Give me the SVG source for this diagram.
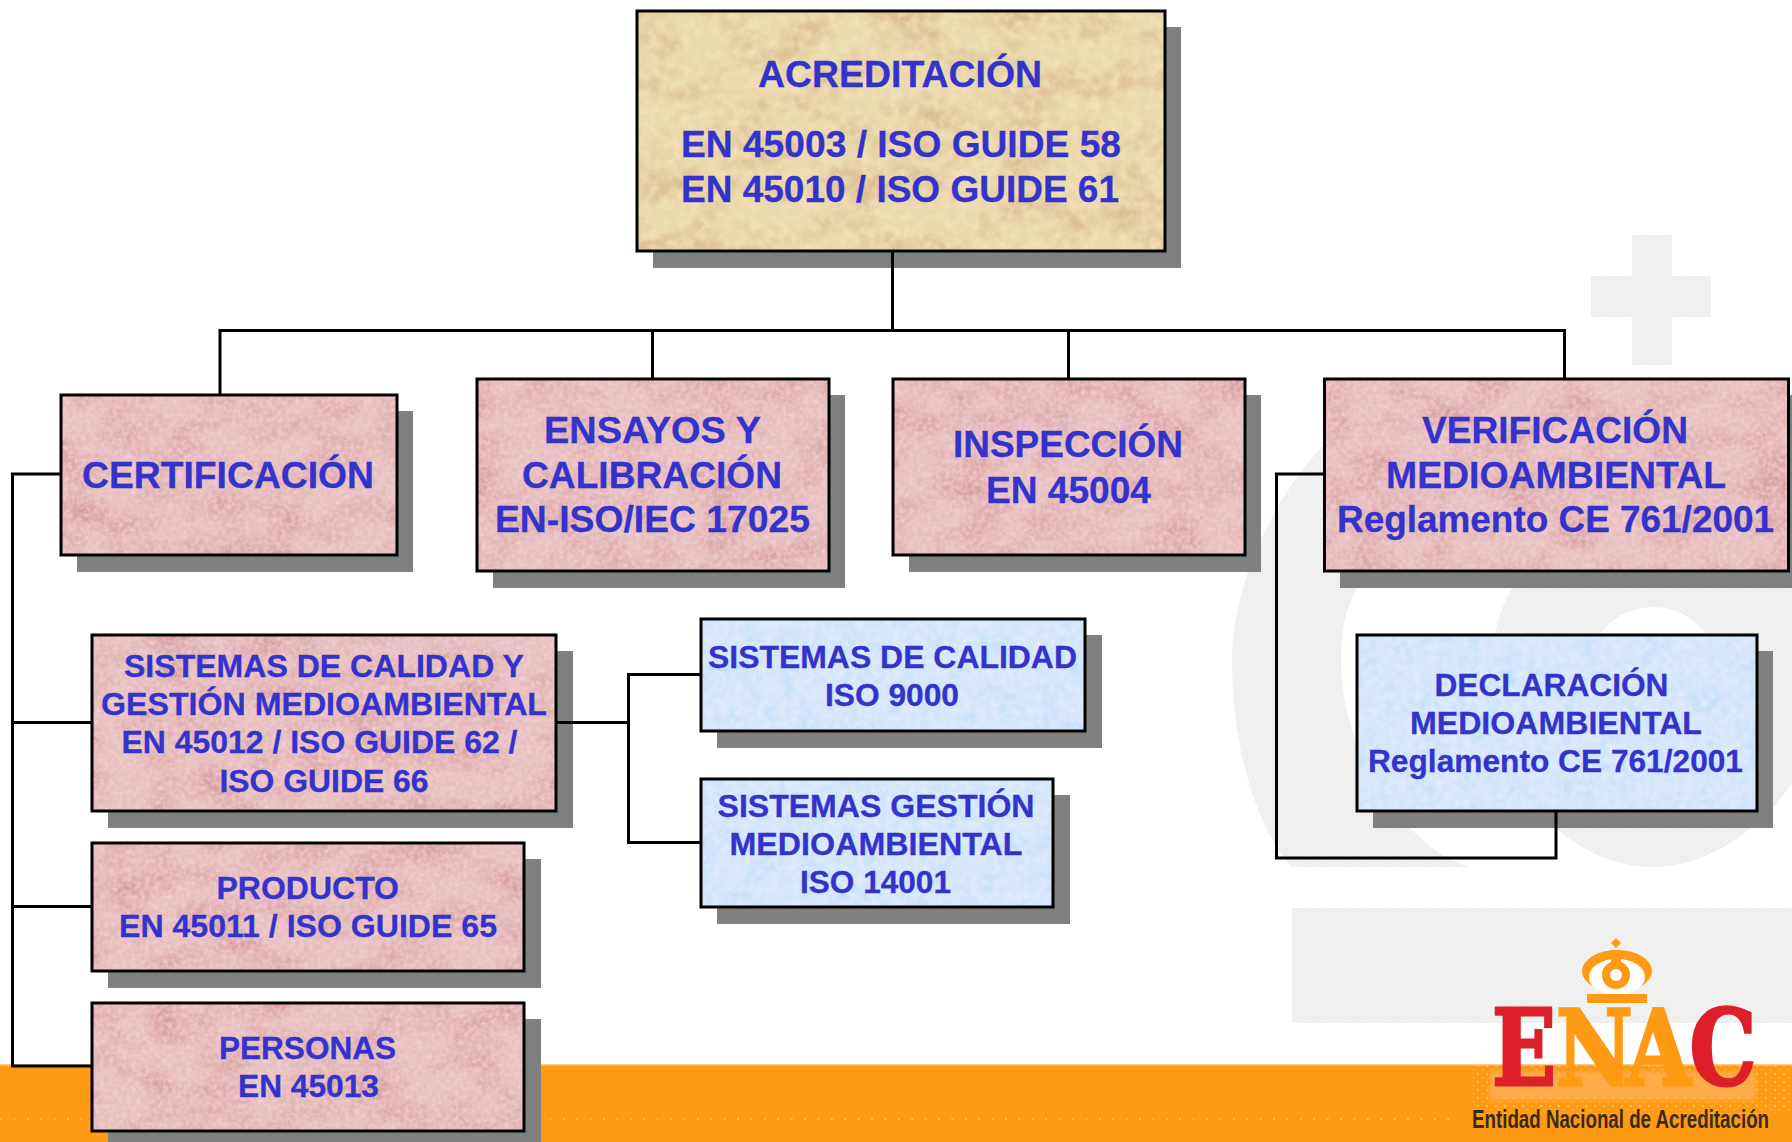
<svg xmlns="http://www.w3.org/2000/svg" width="1792" height="1142" viewBox="0 0 1792 1142">
<style>
text{font-family:"Liberation Sans",Arial,sans-serif;font-weight:bold;fill:#3333cc}
.l{font-size:37px;stroke:#3333cc;stroke-width:.3}
.s{font-size:31px;stroke:#3333cc;stroke-width:.3}
.sh{fill:#808080}
.fr{fill:none;stroke:#000;stroke-width:3}
.rose{fill:#e8bfc0;filter:url(#texRose)}
.tan{fill:#e9d7ae;filter:url(#texTan)}
.blue{fill:#d4e6fc;filter:url(#texBlue)}
.c{fill:none;stroke:#000;stroke-width:3}
.wm{fill:url(#half)}
.lg{font-family:"DejaVu Serif","Liberation Serif",serif;font-size:105px;stroke-width:3}
.o{fill:#ff9a14}
</style>
<defs>
<pattern id="half" width="5" height="4" patternUnits="userSpaceOnUse"><rect width="5" height="4" fill="#eeeeee"/><circle cx="1" cy="1" r=".8" fill="#f9f9f9"/><circle cx="3.5" cy="3" r=".8" fill="#f9f9f9"/></pattern>
<pattern id="halo" width="4" height="4" patternUnits="userSpaceOnUse"><rect width="4" height="4" fill="#ffa630"/><circle cx="1" cy="1" r="1" fill="#ffc890"/><circle cx="3" cy="3" r="1" fill="#ffbe78"/></pattern>
<pattern id="spark" width="9" height="8" patternUnits="userSpaceOnUse"><circle cx="2" cy="2" r="1" fill="#ffc860"/><circle cx="6.500" cy="6" r="1" fill="#ffb040"/></pattern>
<filter id="soft" x="-5%" y="-20%" width="110%" height="140%"><feGaussianBlur stdDeviation="2"/></filter>
<filter id="texRose" x="0" y="0" width="100%" height="100%" color-interpolation-filters="sRGB">
<feTurbulence type="fractalNoise" baseFrequency="0.02 0.03" numOctaves="4" seed="4" result="n"/>
<feColorMatrix in="n" type="matrix" values="0 0 0 0 .83 0 0 0 0 .60 0 0 0 0 .61 2 0 0 0 -.8" result="d"/>
<feTurbulence type="fractalNoise" baseFrequency="0.22" numOctaves="2" seed="9" result="m"/>
<feColorMatrix in="m" type="matrix" values="0 0 0 0 .95 0 0 0 0 .83 0 0 0 0 .83 0 1.5 0 0 -.5" result="w"/>
<feMerge><feMergeNode in="SourceGraphic"/><feMergeNode in="d"/><feMergeNode in="w"/></feMerge>
</filter>
<filter id="texTan" x="0" y="0" width="100%" height="100%" color-interpolation-filters="sRGB">
<feTurbulence type="fractalNoise" baseFrequency="0.018 0.03" numOctaves="4" seed="7" result="n"/>
<feColorMatrix in="n" type="matrix" values="0 0 0 0 .85 0 0 0 0 .72 0 0 0 0 .54 2 0 0 0 -.8" result="d"/>
<feTurbulence type="fractalNoise" baseFrequency="0.1" numOctaves="3" seed="2" result="m"/>
<feColorMatrix in="m" type="matrix" values="0 0 0 0 .96 0 0 0 0 .89 0 0 0 0 .73 0 1.6 0 0 -.55" result="w"/>
<feMerge><feMergeNode in="SourceGraphic"/><feMergeNode in="d"/><feMergeNode in="w"/></feMerge>
</filter>
<filter id="texBlue" x="0" y="0" width="100%" height="100%" color-interpolation-filters="sRGB">
<feTurbulence type="fractalNoise" baseFrequency="0.05 0.035" numOctaves="4" seed="5" result="n"/>
<feColorMatrix in="n" type="matrix" values="0 0 0 0 .76 0 0 0 0 .88 0 0 0 0 .99 2 0 0 0 -.8" result="d"/>
<feTurbulence type="fractalNoise" baseFrequency="0.14" numOctaves="3" seed="11" result="m"/>
<feColorMatrix in="m" type="matrix" values="0 0 0 0 .90 0 0 0 0 .93 0 0 0 0 .99 0 1.6 0 0 -.55" result="w"/>
<feMerge><feMergeNode in="SourceGraphic"/><feMergeNode in="d"/><feMergeNode in="w"/></feMerge>
</filter>
</defs>
<rect width="1792" height="1142" fill="#fff"/>
<g id="background">
<path class="wm" d="M1632,235h40v41h39v41h-39v48h-40v-48h-41v-41h41z"/>
<path class="wm" d="M1324,445C1270,500 1232,590 1232,660C1232,760 1262,835 1292,867L1468,867L1445,857C1395,825 1341,750 1341,660C1341,630 1345,610 1358,587L1375,570z"/>
<path class="wm" fill-rule="evenodd" d="M1512,588H1792V783C1765,825 1710,867 1653,867C1615,867 1580,850 1555,827C1510,780 1485,700 1494,640C1497,620 1503,603 1512,588ZM1653,607C1615,607 1585,640 1585,680C1585,720 1615,753 1653,753C1691,753 1721,720 1721,680C1721,640 1691,607 1653,607Z"/>
<rect class="wm" x="1292" y="908" width="500" height="115"/>
<rect x="0" y="1064" width="1792" height="78" fill="#ff9a14"/>
<rect x="0" y="1064" width="1792" height="1.500" fill="#ffc890"/>
<path d="M0,1119H1450" stroke="#ffc62a" stroke-width="2" stroke-dasharray="2 11.400" fill="none"/>
</g>
<g id="logo">
<rect x="1470" y="1066" width="322" height="48" fill="url(#spark)"/>
<rect x="1490" y="1072" width="266" height="28" fill="url(#halo)" filter="url(#soft)" opacity=".8"/>
<text class="lg" transform="translate(1492,1085) scale(.8,1)"><tspan x="0" style="fill:#dd1f2a;stroke:#dd1f2a">E</tspan><tspan x="80" style="fill:#ff9a14;stroke:#ff9a14">N</tspan><tspan x="167.500" style="fill:#ff9a14;stroke:#ff9a14">A</tspan><tspan x="247" style="fill:#dd1f2a;stroke:#dd1f2a">C</tspan></text>
<path class="o" d="M1616,938l5,5l-5,5l-5,-5z"/>
<ellipse class="o" cx="1617" cy="971" rx="35" ry="21"/>
<ellipse cx="1617" cy="977" rx="28" ry="18" fill="#fff"/>
<rect class="o" x="1611" y="950" width="10" height="14"/>
<circle cx="1616" cy="975" r="10" fill="#fff" stroke="#ff9a14" stroke-width="8"/>
<rect class="o" x="1587" y="994" width="60" height="9"/>
<text transform="translate(1472,1128) scale(.75,1)" style="font-size:25px;fill:#3a2c14">Entidad Nacional de Acreditación</text>
</g>
<g id="node-acreditacion">
<rect class="sh" x="653" y="27" width="528" height="241"/><rect class="tan" x="637" y="11" width="528" height="240"/><rect class="fr" x="637" y="11" width="528" height="240"/>
<text class="l" x="758" y="87" textLength="284" lengthAdjust="spacingAndGlyphs">ACREDITACIÓN</text>
<text class="l" x="681" y="157" textLength="440" lengthAdjust="spacingAndGlyphs">EN 45003 / ISO GUIDE 58</text>
<text class="l" x="681" y="202" textLength="438" lengthAdjust="spacingAndGlyphs">EN 45010 / ISO GUIDE 61</text>
</g>
<g id="node-certificacion">
<rect class="sh" x="77" y="411" width="336" height="161"/><rect class="rose" x="61" y="395" width="336" height="160"/><rect class="fr" x="61" y="395" width="336" height="160"/>
<text class="l" x="82" y="488" textLength="292" lengthAdjust="spacingAndGlyphs">CERTIFICACIÓN</text>
</g>
<g id="node-ensayos">
<rect class="sh" x="493" y="395" width="352" height="193"/><rect class="rose" x="477" y="379" width="352" height="192"/><rect class="fr" x="477" y="379" width="352" height="192"/>
<text class="l" x="544" y="443" textLength="217" lengthAdjust="spacingAndGlyphs">ENSAYOS Y</text>
<text class="l" x="522" y="488" textLength="260" lengthAdjust="spacingAndGlyphs">CALIBRACIÓN</text>
<text class="l" x="495" y="532" textLength="315" lengthAdjust="spacingAndGlyphs">EN-ISO/IEC 17025</text>
</g>
<g id="node-inspeccion">
<rect class="sh" x="909" y="395" width="352" height="177"/><rect class="rose" x="893" y="379" width="352" height="176"/><rect class="fr" x="893" y="379" width="352" height="176"/>
<text class="l" x="953" y="457" textLength="230" lengthAdjust="spacingAndGlyphs">INSPECCIÓN</text>
<text class="l" x="986" y="503" textLength="165" lengthAdjust="spacingAndGlyphs">EN 45004</text>
</g>
<g id="node-verificacion">
<rect class="sh" x="1340" y="395" width="464" height="193"/><rect class="rose" x="1324.500" y="379" width="464" height="192"/><rect class="fr" x="1324.500" y="379" width="464" height="192"/>
<text class="l" x="1422" y="443" textLength="266" lengthAdjust="spacingAndGlyphs">VERIFICACIÓN</text>
<text class="l" x="1386" y="488" textLength="340" lengthAdjust="spacingAndGlyphs">MEDIOAMBIENTAL</text>
<text class="l" x="1337" y="532" textLength="437" lengthAdjust="spacingAndGlyphs">Reglamento CE 761/2001</text>
</g>
<g id="node-sistemas-calidad-gestion">
<rect class="sh" x="108" y="651" width="465" height="177"/><rect class="rose" x="92" y="635" width="464" height="176"/><rect class="fr" x="92" y="635" width="464" height="176"/>
<text class="s" x="124" y="677" textLength="400" lengthAdjust="spacingAndGlyphs">SISTEMAS DE CALIDAD Y</text>
<text class="s" x="101" y="715" textLength="446" lengthAdjust="spacingAndGlyphs">GESTIÓN MEDIOAMBIENTAL</text>
<text class="s" x="121.500" y="753" textLength="396" lengthAdjust="spacingAndGlyphs">EN 45012 / ISO GUIDE 62 /</text>
<text class="s" x="219.500" y="792" textLength="209" lengthAdjust="spacingAndGlyphs">ISO GUIDE 66</text>
</g>
<g id="node-producto">
<rect class="sh" x="108" y="859" width="433" height="129"/><rect class="rose" x="92" y="843" width="432" height="128"/><rect class="fr" x="92" y="843" width="432" height="128"/>
<text class="s" x="216.500" y="899" textLength="182.500" lengthAdjust="spacingAndGlyphs">PRODUCTO</text>
<text class="s" x="119" y="937" textLength="378" lengthAdjust="spacingAndGlyphs">EN 45011 / ISO GUIDE 65</text>
</g>
<g id="node-personas">
<rect class="sh" x="108" y="1019" width="433" height="123"/><rect class="rose" x="92" y="1003" width="432" height="128"/><rect class="fr" x="92" y="1003" width="432" height="128"/>
<text class="s" x="219" y="1059" textLength="177" lengthAdjust="spacingAndGlyphs">PERSONAS</text>
<text class="s" x="238" y="1097" textLength="141" lengthAdjust="spacingAndGlyphs">EN 45013</text>
</g>
<g id="node-sistemas-calidad">
<rect class="sh" x="717" y="635" width="385" height="113"/><rect class="blue" x="701" y="619" width="384" height="112"/><rect class="fr" x="701" y="619" width="384" height="112"/>
<text class="s" x="708" y="668" textLength="369" lengthAdjust="spacingAndGlyphs">SISTEMAS DE CALIDAD</text>
<text class="s" x="825" y="706" textLength="134" lengthAdjust="spacingAndGlyphs">ISO 9000</text>
</g>
<g id="node-sistemas-gestion">
<rect class="sh" x="717" y="795" width="353" height="129"/><rect class="blue" x="701" y="779" width="352" height="128"/><rect class="fr" x="701" y="779" width="352" height="128"/>
<text class="s" x="717.500" y="817" textLength="317" lengthAdjust="spacingAndGlyphs">SISTEMAS GESTIÓN</text>
<text class="s" x="729.500" y="855" textLength="293" lengthAdjust="spacingAndGlyphs">MEDIOAMBIENTAL</text>
<text class="s" x="800" y="893" textLength="151" lengthAdjust="spacingAndGlyphs">ISO 14001</text>
</g>
<g id="node-declaracion">
<rect class="sh" x="1373" y="651" width="400" height="177"/><rect class="blue" x="1357" y="635" width="400" height="176"/><rect class="fr" x="1357" y="635" width="400" height="176"/>
<text class="s" x="1434.500" y="696" textLength="234" lengthAdjust="spacingAndGlyphs">DECLARACIÓN</text>
<text class="s" x="1410" y="734" textLength="292" lengthAdjust="spacingAndGlyphs">MEDIOAMBIENTAL</text>
<text class="s" x="1368" y="772" textLength="375" lengthAdjust="spacingAndGlyphs">Reglamento CE 761/2001</text>
</g>
<g id="connectors">
<path class="c" d="M892.500,251V330.500M220,395V330.500H1564.500V379M652.500,330.500V379M1068.500,330.500V379"/>
<path class="c" d="M61,474H12.500V1066H92M12.500,722.500H92M12.500,906.500H92"/>
<path class="c" d="M556,722.500H628.500M701,674.500H628.500V842.500H701"/>
<path class="c" d="M1324.500,474H1276.500V858H1556V811"/>
</g>
</svg>
